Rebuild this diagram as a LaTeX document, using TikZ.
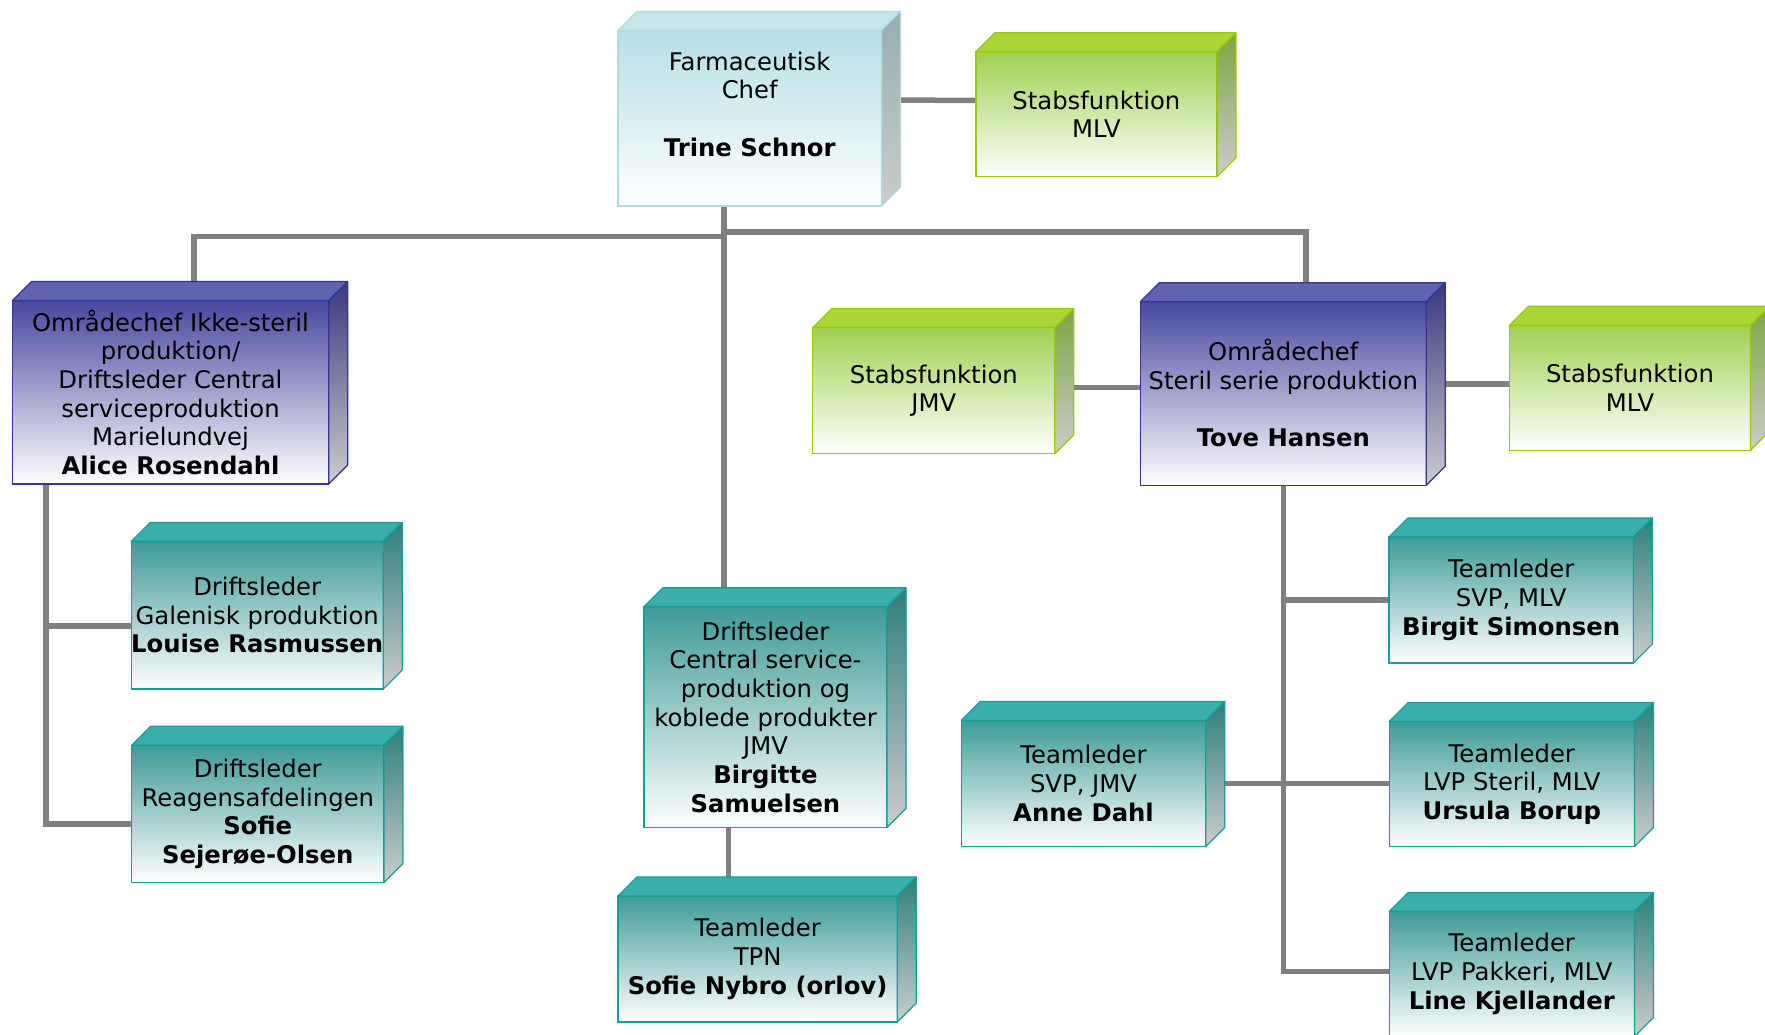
\documentclass[tikz,border=0pt]{standalone}
\usepackage{fontspec}
\setmainfont{DejaVu Sans}
\usepackage{tikz}
\usetikzlibrary{
  backgrounds,
  calc,
}
\definecolor{linegray}{RGB}{128,128,128}
\definecolor{sidegray}{RGB}{204,204,204}
\definecolor{chefedge}{RGB}{174,220,224}
\definecolor{cheffront}{RGB}{182,223,228}
\definecolor{cheftop}{RGB}{198,230,234}
\definecolor{chefside}{RGB}{150,174,178}
\definecolor{stabedge}{RGB}{153,204,0}
\definecolor{stabfront}{RGB}{160,208,80}
\definecolor{stabtop}{RGB}{172,213,56}
\definecolor{stabside}{RGB}{127,166,64}
\definecolor{areaedge}{RGB}{51,51,153}
\definecolor{areafront}{RGB}{72,72,158}
\definecolor{areatop}{RGB}{98,98,176}
\definecolor{areaside}{RGB}{56,56,128}
\definecolor{teamedge}{RGB}{20,158,154}
\definecolor{teamfront}{RGB}{62,155,151}
\definecolor{teamtop}{RGB}{58,174,170}
\definecolor{teamside}{RGB}{47,127,123}
\tikzstyle{link} = [
  line width=5.5pt,
  draw=linegray,
]
\newcommand{\cubedepth}{19}
\newcommand{\cubefaces}[4]{%
  \filldraw[draw=#2, fill=#3, line width=1.2pt, line join=round]
    (#1.north west) -- ++(\cubedepth,-\cubedepth)
    -- ([shift={(\cubedepth,-\cubedepth)}]#1.north east) -- (#1.north east) -- cycle;
  \filldraw[draw=#2, top color=#4, bottom color=sidegray, line width=1.2pt, line join=round]
    (#1.north east) -- ++(\cubedepth,-\cubedepth)
    -- ([shift={(\cubedepth,-\cubedepth)}]#1.south east) -- (#1.south east) -- cycle;
}

\begin{document}
\begin{tikzpicture}[x=1pt, y=-1pt,
    box/.style={draw, line width=1.2pt, inner sep=0pt, outer sep=0pt,
                align=center, font=\fontsize{24.3}{28.7}\selectfont},
    chefbox/.style={box, draw=chefedge, top color=cheffront, bottom color=white},
    stabbox/.style={box, draw=stabedge, top color=stabfront, bottom color=white},
    areabox/.style={box, draw=areaedge, top color=areafront, bottom color=white},
    teambox/.style={box, draw=teamedge, top color=teamfront, bottom color=white}]
  \useasboundingbox (0,0) rectangle (1765,1034);
  \node [chefbox, minimum width=263.4, minimum height=175.6] (chef) at (749.7,118.2)
        {Farmaceutisk\\Chef\\[28.7pt]\textbf{Trine Schnor}\\\mbox{}};
  \node [stabbox, minimum width=241, minimum height=125] (stabA) at (1096.4,114.3)
        {Stabsfunktion\\MLV};
  \node [areabox, minimum width=316.3, minimum height=183.5] (ar) at (170.5,392.3)
        {Områdechef Ikke-steril\\produktion/\\Driftsleder Central\\serviceproduktion\\Marielundvej\\\textbf{Alice Rosendahl}};
  \node [teambox, minimum width=251, minimum height=147.5] (louise) at (257.2,615.2)
        {Driftsleder\\Galenisk produktion\\\textbf{Louise Rasmussen}};
  \node [teambox, minimum width=252.2, minimum height=137.3] (sofie) at (257.8,813.9)
        {Driftsleder\\Reagensafdelingen\\\textbf{Sofie}\\\textbf{Sejerøe-Olsen}};
  \node [teambox, minimum width=243.1, minimum height=220.6] (bs) at (765.5,717.1)
        {Driftsleder\\Central service-\\produktion og\\koblede produkter\\JMV\\\textbf{Birgitte}\\\textbf{Samuelsen}};
  \node [teambox, minimum width=279.2, minimum height=126.1] (sn) at (757.6,959)
        {Teamleder\\TPN\\\textbf{Sofie Nybro (orlov)}};
  \node [stabbox, minimum width=242, minimum height=126.1] (stabB) at (933.8,390.6)
        {Stabsfunktion\\JMV};
  \node [areabox, minimum width=286, minimum height=183.5] (th) at (1283.3,393.4)
        {Områdechef\\Steril serie produktion\\[28.7pt]\textbf{Tove Hansen}};
  \node [stabbox, minimum width=241, minimum height=125] (stabC) at (1630,387.8)
        {Stabsfunktion\\MLV};
  \node [teambox, minimum width=244.3, minimum height=126] (bsim) at (1511.2,600)
        {Teamleder\\SVP, MLV\\\textbf{Birgit Simonsen}};
  \node [teambox, minimum width=244.3, minimum height=126.1] (ad) at (1083.5,783.5)
        {Teamleder\\SVP, JMV\\\textbf{Anne Dahl}};
  \node [teambox, minimum width=245.4, minimum height=125] (ub) at (1511.8,784)
        {Teamleder\\LVP Steril, MLV\\\textbf{Ursula Borup}};
  \node [teambox, minimum width=245.4, minimum height=125] (lk) at (1511.8,974)
        {Teamleder\\LVP Pakkeri, MLV\\\textbf{Line Kjellander}};

  \cubefaces{chef}{chefedge}{cheftop}{chefside}
  \foreach \n in {stabA, stabB, stabC}
    {\cubefaces{\n}{stabedge}{stabtop}{stabside}}
  \foreach \n in {ar, th}
    {\cubefaces{\n}{areaedge}{areatop}{areaside}}
  \foreach \n in {louise, sofie, bs, sn, bsim, ad, ub, lk}
    {\cubefaces{\n}{teamedge}{teamtop}{teamside}}

  \begin{scope}[on background layer]
    \coordinate (lhub) at (723.8,236.4);
    \coordinate (rhub) at (723.8,231.9);
    \coordinate (arleg) at (46,824);
    \draw [link] (chef.south -| lhub) -- ([yshift=\cubedepth pt]bs.north -| lhub);
    \draw [link] (lhub) -| ([xshift=23.5pt, yshift=\cubedepth pt]ar.north);
    \draw [link] (rhub) -| ([xshift=22.5pt, yshift=\cubedepth pt]th.north);
    \draw [link] ([xshift=\cubedepth pt, yshift=18pt]chef.east) -- ([yshift=14pt]stabA.west);
    \draw [link] (ar.south -| arleg) -- (arleg) -- (arleg -| sofie.west);
    \draw [link] ([yshift=-10.8pt]louise.west) -- ([yshift=-10.8pt]louise.west -| arleg);
    \draw [link] ([xshift=-37.2pt]bs.south) coordinate (bsleg)
          -- ([yshift=\cubedepth pt]sn.north -| bsleg);
    \draw [link] ([xshift=\cubedepth pt, yshift=3pt]stabB.east) -- ([yshift=3pt]stabB.east -| th.west);
    \draw [link] ([xshift=\cubedepth pt, yshift=9.5pt]th.east) -- ([yshift=9.5pt]th.east -| stabC.west);
    \draw [link] (th.south) -- ([yshift=2.5pt]th.south |- lk.west) -- ([yshift=2.5pt]lk.west);
    \draw [link] (th.south |- bsim.west) -- (bsim.west);
    \draw [link] ([xshift=\cubedepth pt]ad.east) -- (ad.east -| ub.west);
  \end{scope}
\end{tikzpicture}
\end{document}
